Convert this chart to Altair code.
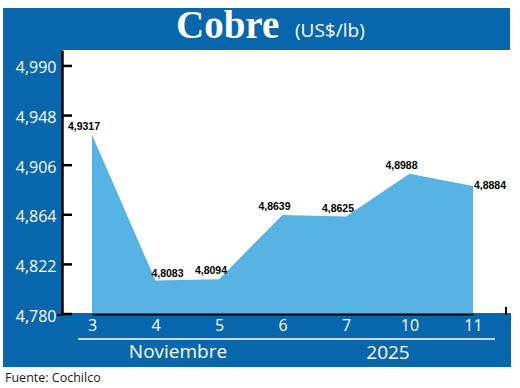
import altair as alt
import pandas as pd

days = ["3", "4", "5", "6", "7", "10", "11"]
prices = [4.9317, 4.8083, 4.8094, 4.8639, 4.8625, 4.8988, 4.8884]
y_ticks = [4.780, 4.822, 4.864, 4.906, 4.948, 4.990]
title_main = "Cobre"
title_unit = "(US$/lb)"
month_label = "Noviembre"
year_label = "2025"
source_label = "Fuente: Cochilco"
right_labels = ["4"]
side_labels = ["11"]

BLUE = "#0866ad"
AREA = "#56b3e3"
FONT = "Open Sans"

df = pd.DataFrame({
    "day": days,
    "price": prices,
    "label": [f"{v:.4f}".replace(".", ",") for v in prices],
})
ticks_df = pd.DataFrame({"price": y_ticks})
one = pd.DataFrame({"k": [0]})

W, H = 444, 264

xscale = alt.Scale(type="point", domain=days, range=[30, 411], padding=0)
xaxis = alt.Axis(title=None, labelAngle=0, ticks=False, domainColor="black",
                 domainWidth=2, labelColor="white", labelFont=FONT,
                 labelFontSize=16, labelPadding=3, grid=False, zindex=1)
xenc = alt.X("day:O", sort=days, scale=xscale, axis=xaxis)
yscale = alt.Scale(domain=[4.78, 5.0035], nice=False, zero=False)
yaxis = alt.Axis(title=None, values=y_ticks, format=".3f",
                 labelExpr="replace(datum.label, '.', ',')",
                 ticks=False, tickSize=0, domainColor="black", domainWidth=2.5,
                 labelColor="white", labelFont=FONT, labelFontSize=16,
                 labelPadding=6, labelOffset=2, grid=False, zindex=1)
yenc = alt.Y("price:Q", scale=yscale, axis=yaxis)

deco = alt.Chart(one)
header = deco.mark_rect(color=BLUE).encode(
    x=alt.value(-59), x2=alt.value(448), y=alt.value(-42), y2=alt.value(0))
left_strip = deco.mark_rect(color=BLUE).encode(
    x=alt.value(-59), x2=alt.value(0), y=alt.value(0), y2=alt.value(317))
bottom_band = deco.mark_rect(color=BLUE).encode(
    x=alt.value(-59), x2=alt.value(449), y=alt.value(263), y2=alt.value(317))
white_line = deco.mark_rule(color="white", strokeWidth=1.5).encode(
    x=alt.value(16), x2=alt.value(433), y=alt.value(289))
t_main = deco.mark_text(text=title_main, font="Liberation Serif", fontWeight="bold",
                        fontSize=39, color="white", align="left", baseline="alphabetic").encode(
    x=alt.value(114), y=alt.value(-12))
t_unit = deco.mark_text(text=title_unit, font=FONT, fontSize=19, color="white",
                        align="left", baseline="alphabetic").encode(
    x=alt.value(233), y=alt.value(-13))
t_month = deco.mark_text(text=month_label, font=FONT, fontSize=19, color="white",
                         align="center", baseline="alphabetic").encode(
    x=alt.value(116), y=alt.value(308))
t_year = deco.mark_text(text=year_label, font=FONT, fontSize=19, color="white",
                        align="center", baseline="alphabetic").encode(
    x=alt.value(326), y=alt.value(309))
t_src = deco.mark_text(text=source_label, font=FONT, fontSize=12.5, color="#1a1a1a",
                       align="left", baseline="alphabetic").encode(
    x=alt.value(-57), y=alt.value(332))
end_tick = deco.mark_rule(color="black", strokeWidth=2).encode(
    x=alt.value(444), y=alt.value(257), y2=alt.value(265))
start_tick = deco.mark_rule(color="black", strokeWidth=2).encode(
    x=alt.value(-5), x2=alt.value(0), y=alt.value(265))

base = alt.Chart(df)
area = base.mark_area(color=AREA, opacity=1).encode(x=xenc, y=yenc, y2=alt.datum(4.78))

yticks = alt.Chart(ticks_df).mark_rule(color="black", strokeWidth=2.5).encode(
    y=alt.Y("price:Q", scale=yscale, axis=yaxis), x=alt.value(0), x2=alt.value(10))

lab_font = dict(font="Liberation Sans", fontWeight="bold", fontSize=10.5,
                color="black", baseline="middle", align="center")
xo = alt.X("day:O", sort=days, scale=xscale, axis=xaxis)
yo = alt.Y("price:Q", scale=yscale, axis=yaxis)
labels_c = base.transform_filter(
    ~alt.FieldOneOfPredicate(field="day", oneOf=right_labels + side_labels)
).mark_text(dx=-8, dy=-8, **lab_font).encode(x=xo, y=yo, text="label:N")
labels_r = base.transform_filter(
    alt.FieldOneOfPredicate(field="day", oneOf=right_labels)
).mark_text(dx=12, dy=-7, **lab_font).encode(x=xo, y=yo, text="label:N")
labels_s = base.transform_filter(
    alt.FieldOneOfPredicate(field="day", oneOf=side_labels)
).mark_text(dx=17, dy=0, **lab_font).encode(x=xo, y=yo, text="label:N")

chart = alt.layer(
    header, left_strip, bottom_band, area, yticks, white_line,
    t_main, t_unit, t_month, t_year, t_src, end_tick, start_tick,
    labels_c, labels_r, labels_s,
).properties(
    width=W, height=H,
    padding={"left": 62, "top": 50, "right": 14, "bottom": 74},
    autosize=alt.AutoSizeParams(type="none"),
    background="white",
).configure_view(stroke=None)

chart.save("out.html", embed_options={"renderer": "svg", "actions": False})
